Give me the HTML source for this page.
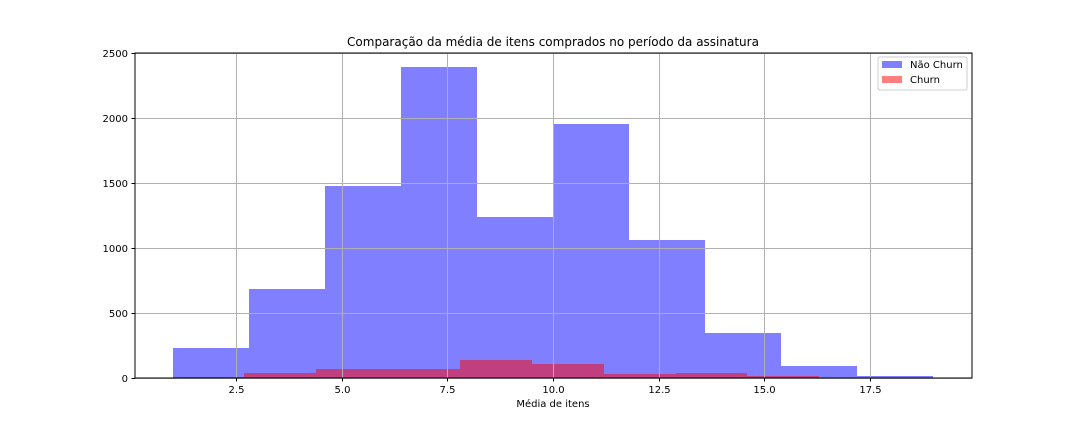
<!DOCTYPE html>
<html><head><meta charset="utf-8"><style>
body{margin:0;background:#fff;font-family:"Liberation Sans","DejaVu Sans",sans-serif}
svg text{font-family:"DejaVu Sans","Liberation Sans",sans-serif;font-size:10px;fill:#000}
</style></head><body>
<svg id="c" width="1080" height="432">
<text x="553" y="46" text-anchor="middle" style="font-size:12px">Comparação da média de itens comprados no período da assinatura</text>
<text x="553" y="407" text-anchor="middle">Média de itens</text>
<g id="bars" shape-rendering="crispEdges"></g><g id="grid" shape-rendering="crispEdges"></g><g id="ticks"></g>
<rect x="135" y="53" width="837" height="325" fill="none" stroke="#000" stroke-width="1"/>
<g>
<rect x="878" y="57" width="89" height="33" rx="2" fill="#fff" fill-opacity="0.8" stroke="#ccc"/>
<rect x="882" y="61" width="20" height="7" fill="#0000ff" fill-opacity="0.5"/>
<text x="910" y="68">Não Churn</text>
<rect x="882" y="76" width="20" height="7" fill="#ff0000" fill-opacity="0.5"/>
<text x="910" y="83">Churn</text>
</g>
</svg>
<script>
const blueStart=1.0, blueWidth=1.8;
const blueCounts=[230,685,1475,2395,1235,1955,1060,345,92,15];
const redStart=1.0, redWidth=1.7;
const redCounts=[8,38,69,69,138,108,31,38,15];
const xTicks=[2.5,5.0,7.5,10.0,12.5,15.0,17.5];
const yTicks=[0,500,1000,1500,2000,2500];
const NS="http://www.w3.org/2000/svg";
const X=v=>130.3+v*42.27, Y=v=>378-v*0.13;
function mk(t,a,p){const e=document.createElementNS(NS,t);for(const k in a)e.setAttribute(k,a[k]);p.appendChild(e);return e;}
const g=document.getElementById('grid'),b=document.getElementById('bars'),tk=document.getElementById('ticks');
xTicks.forEach(v=>{const x=Math.round(X(v))+0.5;
 const l=mk('line',{x1:x,x2:x,y1:53,y2:378,stroke:'#b0b0b0','stroke-width':1},g);
 
 mk('line',{x1:x,x2:x,y1:378,y2:381.5,stroke:'#000'},tk);
 const t=mk('text',{x:x,y:393,'text-anchor':'middle'},tk);t.textContent=v.toFixed(1);
 });
yTicks.forEach(v=>{const y=Math.round(Y(v))+0.5;
 const l=mk('line',{x1:135,x2:972,y1:y,y2:y,stroke:'#b0b0b0','stroke-width':1},g);
 
 mk('line',{x1:131.5,x2:135,y1:y,y2:y,stroke:'#000'},tk);
 const t=mk('text',{x:128,y:y+3.5,'text-anchor':'end'},tk);t.textContent=v;
 });
function bar(x0,x1,c,fill,name){
 const a=Math.round(x0),z=Math.round(x1),top=Math.round(Y(c));
 const r=mk('rect',{x:a,y:top,width:z-a,height:378-top,fill:fill,'fill-opacity':0.5},b);
 }
blueCounts.forEach((c,i)=>bar(X(blueStart+i*blueWidth),X(blueStart+(i+1)*blueWidth),c,'#0000ff','bar-nao-churn'));
redCounts.forEach((c,i)=>bar(X(redStart+i*redWidth),X(redStart+(i+1)*redWidth),c,'#ff0000','bar-churn'));
</script>
</body></html>
